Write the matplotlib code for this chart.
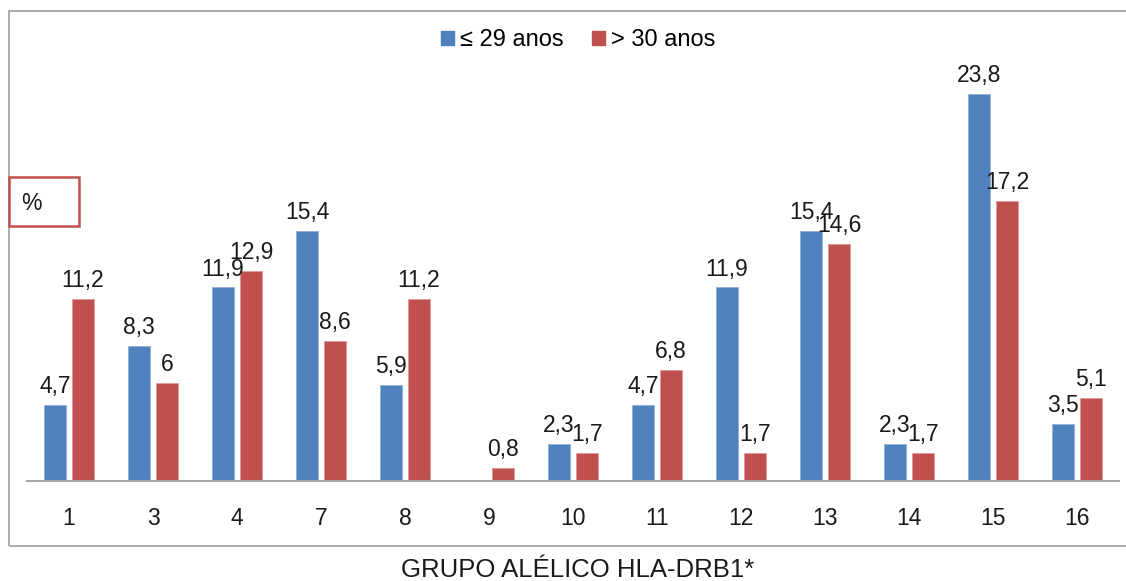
import numpy as np
import matplotlib
matplotlib.use("Agg")
import matplotlib.pyplot as plt
import matplotlib.patches as mpatches

plt.rcParams['font.family'] = ['Liberation Sans', 'DejaVu Sans']

# allele groups and frequencies (%) per age group
grupos = ['1', '3', '4', '7', '8', '9', '10', '11', '12', '13', '14', '15', '16']
ate_29 = [4.7, 8.3, 11.9, 15.4, 5.9, 0, 2.3, 4.7, 11.9, 15.4, 2.3, 23.8, 3.5]
acima_30 = [11.2, 6, 12.9, 8.6, 11.2, 0.8, 1.7, 6.8, 1.7, 14.6, 1.7, 17.2, 5.1]
series_labels = ['\u2264 29 anos', '> 30 anos']

W, H = 1126, 581
fig = plt.figure(figsize=(W / 100, H / 100), dpi=100)
ax = fig.add_axes([27 / W, (H - 481) / H, (1119 - 27) / W, (481 - 20) / H])

blue = '#4F81BD'
red = '#C0504D'
txt = '#1a1a1a'
fs = 16.5

x = np.arange(len(grupos))
bw = 0.265
off = 0.167
b1 = ax.bar(x - off, ate_29, bw, color=blue, edgecolor='#8FB0D8', linewidth=0.6)
b2 = ax.bar(x + off, acima_30, bw, color=red, edgecolor='#E09A98', linewidth=0.6)

def fmt(v):
    return f"{v:g}".replace('.', ',')

for bars, vals in ((b1, ate_29), (b2, acima_30)):
    for rect, v in zip(bars, vals):
        if v == 0:
            continue
        ax.annotate(fmt(v), (rect.get_x() + rect.get_width() / 2, v),
                    xytext=(0, 5), textcoords='offset points',
                    ha='center', va='bottom', fontsize=fs, color=txt)

ax.set_xlim(-0.5, len(grupos) - 0.5)
ax.set_ylim(0, 28.35)
ax.set_xticks(x)
ax.set_xticklabels(grupos, fontsize=fs, color=txt)
ax.tick_params(axis='x', length=0, pad=19)
ax.set_yticks([])
for s in ('top', 'right', 'left'):
    ax.spines[s].set_visible(False)
ax.spines['bottom'].set_color('#A6A6A6')
ax.spines['bottom'].set_linewidth(1.5)

# outer frame of the chart
frame = mpatches.Rectangle((9 / W, (H - 546) / H), 1.2, (546 - 11) / H,
                           transform=fig.transFigure, fill=False,
                           edgecolor='#A6A6A6', linewidth=1.3, clip_on=False)
fig.patches.append(frame)

# "%" box on the left
pbox = mpatches.Rectangle((9 / W, (H - 226) / H), 70 / W, 49 / H,
                          transform=fig.transFigure, fill=False,
                          edgecolor=red, linewidth=1.8, clip_on=False)
fig.patches.append(pbox)
fig.text(21 / W, (H - 203) / H, '%', fontsize=fs, va='center', ha='left',
         color=txt)

handles = [mpatches.Patch(color=blue, label=series_labels[0]),
           mpatches.Patch(color=red, label=series_labels[1])]
fig.legend(handles=handles, loc='center', bbox_to_anchor=(578 / W, (H - 40) / H),
           ncol=2, frameon=False, fontsize=17, handlelength=0.55, handleheight=0.55,
           handletextpad=0.25, columnspacing=1.2)

fig.text(578 / W, (H - 570) / H, 'GRUPO AL\u00c9LICO HLA-DRB1*', fontsize=18.5,
         ha='center', va='center', color=txt)

fig.savefig('out.png', dpi=100)
